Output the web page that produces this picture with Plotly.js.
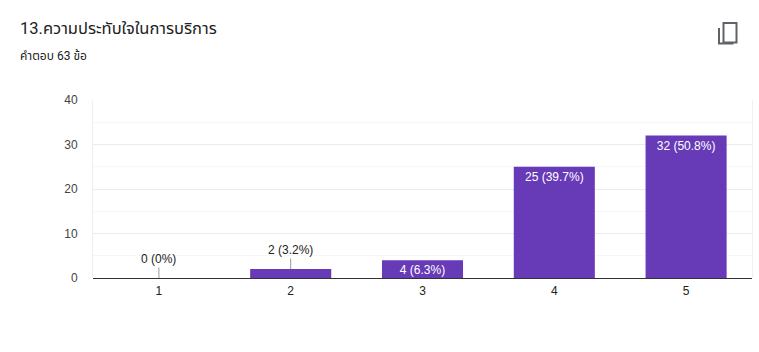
<!DOCTYPE html>
<html>
<head>
<meta charset="utf-8">
<script src="https://cdn.plot.ly/plotly-3.0.1.min.js"></script>
<style>
html,body{margin:0;padding:0;background:#fff;}
#chart{width:759px;height:352px;position:relative;}
#icon{position:absolute;left:712px;top:18px;width:30px;height:30px;}
</style>
</head>
<body>
<div id="chart"></div>
<svg id="icon" viewBox="712 18 30 30" xmlns="http://www.w3.org/2000/svg">
  <rect x="723.5" y="23" width="13" height="19.5" fill="none" stroke="#5f6368" stroke-width="2"/>
  <path d="M719 28 V43.5 H733.5" fill="none" stroke="#5f6368" stroke-width="2"/>
</svg>
<script>
var categories = ['1', '2', '3', '4', '5'];
var counts = [0, 2, 4, 25, 32];
var percents = ['0%', '3.2%', '6.3%', '39.7%', '50.8%'];
var yTicks = [0, 10, 20, 30, 40];
var titleText = '13.ความประทับใจในการบริการ';
var subtitleText = 'คำตอบ 63 ข้อ';

var TFONT = 'Roboto, "Noto Sans Thai", "Noto Sans", sans-serif';
var FONT = 'Arial, "Liberation Sans", "Noto Sans", sans-serif';
var labels = counts.map(function(c, i){ return c + ' (' + percents[i] + ')'; });
var insideText = counts.map(function(c, i){ return c >= 4 ? labels[i] : ''; });

var annotations = [];
counts.forEach(function(c, i){
  if (c < 4) {
    annotations.push({
      x: i, y: c, xref: 'x', yref: 'y',
      text: labels[i], showarrow: true, arrowhead: 0, arrowwidth: 1,
      arrowcolor: '#999999', ax: 0, ay: -19, standoff: 0,
      font: {family: FONT, size: 12, color: '#222222'}
    });
  }
});
annotations.push({
  xref: 'paper', yref: 'paper', x: (20 - 93) / 659, y: 1 + (99.7 - 56) / 178.6,
  xanchor: 'left', yanchor: 'middle', showarrow: false, text: subtitleText,
  xshift: -2,
  font: {family: TFONT, size: 12, color: '#202124'}
});

var data = [{
  type: 'bar', x: categories, y: counts,
  marker: {color: '#673ab7'},
  text: insideText, textposition: 'inside', insidetextanchor: 'end',
  constraintext: 'none', cliponaxis: false,
  textfont: {family: FONT, size: 12, color: '#ffffff'},
  hoverinfo: 'none'
}];

var layout = {
  width: 759, height: 352,
  margin: {l: 93, r: 7, t: 99.7, b: 73.7, pad: 0},
  paper_bgcolor: '#ffffff', plot_bgcolor: '#ffffff',
  bargap: 0.385,
  showlegend: false,
  title: {
    text: titleText, xref: 'container', yref: 'container',
    x: 20 / 759, xanchor: 'left', y: 1 - 28 / 352, yanchor: 'middle',
    font: {family: TFONT, size: 16.5, color: '#202124'}
  },
  xaxis: {
    type: 'category', showgrid: false, showline: false, zeroline: false,
    ticks: '', tickfont: {family: FONT, size: 12, color: '#222222'},
    ticklabelstandoff: 4
  },
  yaxis: {
    range: [0, 40], tickvals: yTicks, ticktext: yTicks.map(String),
    showgrid: true, gridcolor: '#ebebeb', gridwidth: 1,
    zeroline: true, zerolinecolor: '#333333', zerolinewidth: 1,
    showline: true, mirror: true, linecolor: '#efefef', linewidth: 1,
    ticks: '',
    tickfont: {family: FONT, size: 12, color: '#444444'},
    ticklabelstandoff: 12,
    minor: {dtick: 5, tick0: 0, showgrid: true, gridcolor: '#f6f6f6', gridwidth: 1}
  },
  annotations: annotations
};

Plotly.newPlot('chart', data, layout, {staticPlot: true, displayModeBar: false});
</script>
</body>
</html>
